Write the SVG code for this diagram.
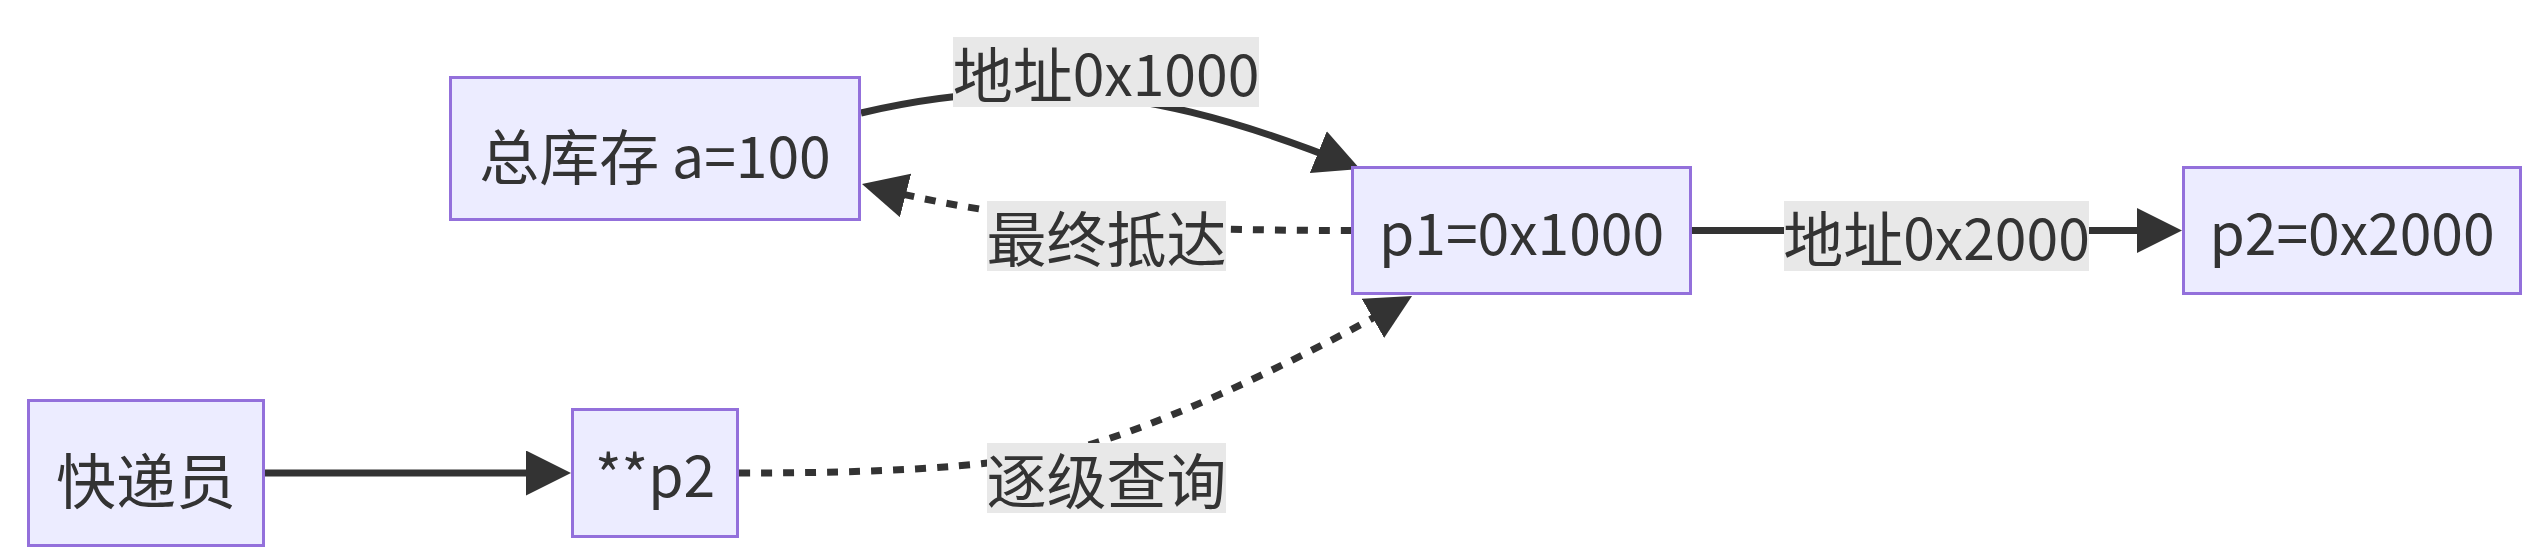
<svg xmlns="http://www.w3.org/2000/svg" width="2541" height="559" viewBox="0 0 2541 559">
<style>
.node rect{fill:#ECECFF;stroke:#9370DB;stroke-width:3}
text{font-family:"Noto Sans CJK SC","Noto Sans",sans-serif;font-size:60px;fill:#333;text-anchor:middle;dominant-baseline:central}
.lat{font-size:57px}
.edge{fill:none;stroke:#333;stroke-width:7}
.dotted{stroke-dasharray:11 11}
.lbl rect{fill:#e8e8e8}
</style>
<defs>
<marker id="arrow" viewBox="0 0 10 10" refX="8" refY="5" markerUnits="userSpaceOnUse" markerWidth="45" markerHeight="45" orient="auto"><path d="M0,0 L10,5 L0,10 z" fill="#333"/></marker>
</defs>
<g id="connectors">
<path id="e-a-p1" class="edge" d="M861,113 C920,99 990,90 1060,93 C1140,96 1232,117 1351.7,165.6" marker-end="url(#arrow)"/>
<path id="e-p1-a" class="edge dotted" d="M1352,230.5 C1150,230.5 1008.7,222.3 870.7,186.3" marker-end="url(#arrow)"/>
<path id="e-k-pp2" class="edge" d="M265,473 L562,473" marker-end="url(#arrow)"/>
<path id="e-p1-p2" class="edge" d="M1692,230.5 L2173,230.5" marker-end="url(#arrow)"/>
<path id="e-pp2-p1" class="edge dotted" d="M739,473 C880,473 980,468 1060,452 C1140,436 1292.2,364.5 1404.2,300.5" marker-end="url(#arrow)"/>
<g class="lbl" id="l-a-p1"><rect x="953" y="37" width="306" height="70"/><text x="1106" y="71">地址<tspan class="lat">0x1000</tspan></text></g>
<g class="lbl" id="l-p1-a"><rect x="987" y="201" width="239" height="70"/><text x="1106.5" y="235">最终抵达</text></g>
<g class="lbl" id="l-p1-p2"><rect x="1784" y="201" width="305" height="70"/><text x="1936.5" y="235">地址<tspan class="lat">0x2000</tspan></text></g>
<g class="lbl" id="l-pp2-p1"><rect x="987" y="443" width="239" height="70"/><text x="1106.5" y="477">逐级查询</text></g>
</g>
<g id="n-a" class="node"><rect x="450.5" y="77.5" width="409" height="142"/><text x="655" y="153">总库存<tspan class="lat"> a=100</tspan></text></g>
<g id="n-p1" class="node"><rect x="1352.5" y="167.5" width="338" height="126"/><text class="lat" x="1521.5" y="229.5">p1=0x1000</text></g>
<g id="n-p2" class="node"><rect x="2183.5" y="167.5" width="337" height="126"/><text class="lat" x="2352" y="229.5">p2=0x2000</text></g>
<g id="n-k" class="node"><rect x="28.5" y="400.5" width="235" height="145"/><text x="146" y="477">快递员</text></g>
<g id="n-pp2" class="node"><rect x="572.5" y="409.5" width="165" height="127"/><text class="lat" x="655" y="472">**p2</text></g>
</svg>
